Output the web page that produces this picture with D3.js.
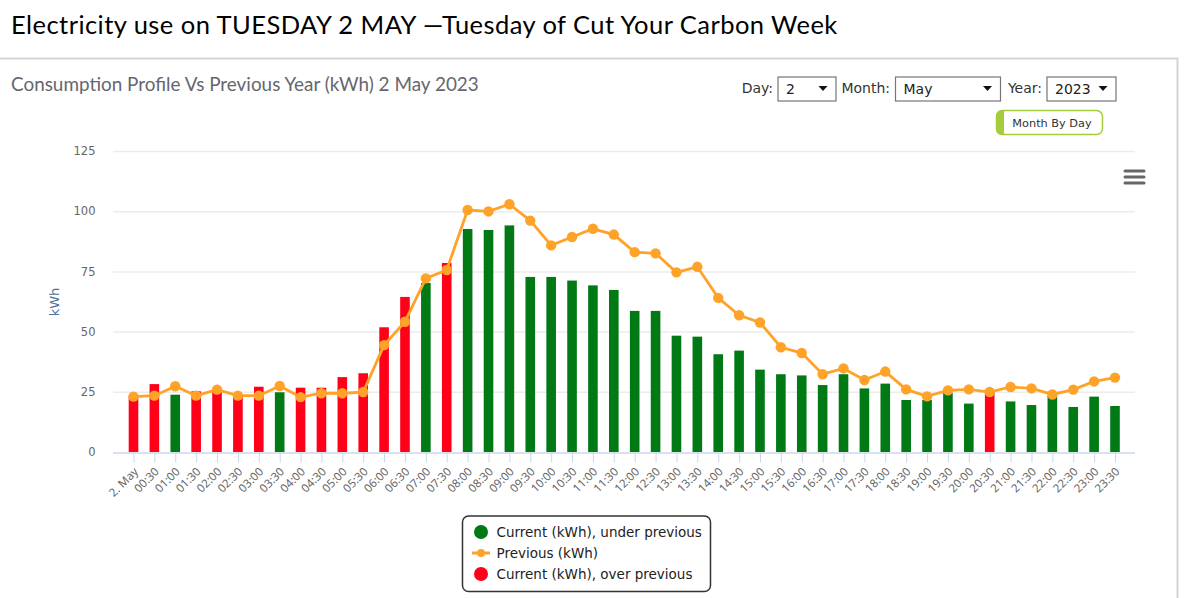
<!DOCTYPE html>
<html><head>
<meta charset="utf-8">
<title>Electricity use on Tuesday 2 May</title>
<script src="https://d3js.org/d3.v7.min.js"></script>
<style>
  html, body { margin: 0; padding: 0; background: #fff; }
  svg { display: block; }
  text { font-family: "DejaVu Sans", sans-serif; }
</style>
</head>
<body>
<svg id="chart" width="1189" height="598"></svg>
<script>
// half-hourly labels, first one is the date label
let times = ["2. May", "00:30", "01:00", "01:30", "02:00", "02:30", "03:00", "03:30", "04:00", "04:30",
  "05:00", "05:30", "06:00", "06:30", "07:00", "07:30", "08:00", "08:30", "09:00", "09:30",
  "10:00", "10:30", "11:00", "11:30", "12:00", "12:30", "13:00", "13:30", "14:00", "14:30",
  "15:00", "15:30", "16:00", "16:30", "17:00", "17:30", "18:00", "18:30", "19:00", "19:30",
  "20:00", "20:30", "21:00", "21:30", "22:00", "22:30", "23:00", "23:30"];
let current = [23.3, 28.2, 23.8, 25.2, 26.2, 23.6, 27.1, 24.8, 26.7, 26.7,
  31.1, 32.7, 51.8, 64.4, 70.2, 78.5, 92.6, 92.2, 94.1, 72.7,
  72.7, 71.2, 69.2, 67.3, 58.6, 58.6, 48.3, 47.9, 40.6, 42.1,
  34.2, 32.3, 31.8, 27.8, 32.3, 26.4, 28.4, 21.6, 21.6, 24.5,
  20.1, 25.2, 21.0, 19.5, 23.4, 18.7, 23.0, 19.1];
let previous = [23.0, 23.4, 27.3, 23.4, 25.9, 23.4, 23.4, 27.4, 22.8, 24.4,
  24.4, 24.9, 44.4, 54.1, 72.1, 75.6, 100.5, 99.9, 102.9, 96.1,
  85.8, 89.3, 92.7, 90.3, 83.0, 82.5, 74.6, 76.9, 64.0, 56.8,
  53.8, 43.5, 41.1, 32.3, 34.7, 29.9, 33.4, 26.0, 23.1, 25.6,
  26.0, 24.9, 27.0, 26.4, 23.9, 25.9, 29.3, 30.9];
let yTicks = [0, 25, 50, 75, 100, 125];
let legendItems = ["Current (kWh), under previous", "Previous (kWh)", "Current (kWh), over previous"];

let green = "#017a15", red = "#ff0019", orange = "#ffa228";
let svg = d3.select("#chart");

// page heading and the panel behind the chart
svg.append("text").attr("x", 11).attr("y", 34)
    .style("font-family", "Lato").style("font-size", "25.5px").style("letter-spacing", "0.45px").style("fill", "#000")
    .text("Electricity use on TUESDAY 2 MAY \u2014Tuesday of Cut Your Carbon Week");
svg.append("path").attr("d", "M0 58.5H1177.5V598").attr("fill", "none")
    .attr("stroke", "#d4d4d4").attr("stroke-width", 2);
svg.append("text").attr("x", 11).attr("y", 91)
    .style("font-family", "Lato").style("font-size", "18.9px").style("fill", "#66666e")
    .text("Consumption Profile Vs Previous Year (kWh) 2 May 2023");

// scales
let x = d3.scalePoint().domain(times).range([133.5, 1115]);
let y = d3.scaleLinear().domain([0, 125]).range([452, 151]);
let barWidth = 9.6;

// y axis, highcharts style gridlines
let yAxis = svg.append("g").attr("transform", "translate(113,0)")
    .call(d3.axisLeft(y).tickValues(yTicks).tickSize(-1022).tickPadding(17.5));
yAxis.select(".domain").remove();
yAxis.selectAll(".tick line").attr("stroke", "#ececec").attr("stroke-width", 1.5);
yAxis.selectAll(".tick text").style("font-size", "11.5px").style("fill", "#666");
yAxis.selectAll(".tick").filter(d => d === 0).select("line").remove();

svg.append("text").attr("transform", "translate(59,302) rotate(-90)").attr("text-anchor", "middle")
    .style("font-size", "13px").style("fill", "#4d6f9c").text("kWh");

// x axis
let xAxis = svg.append("g").attr("transform", "translate(0,452.5)")
    .call(d3.axisBottom(x).tickSize(10).tickSizeOuter(0));
xAxis.select(".domain").attr("d", "M113 0.5H1135").attr("stroke", "#ccd6eb").attr("stroke-width", 1.5);
xAxis.selectAll(".tick line").attr("stroke", "#ccd6eb");
xAxis.selectAll(".tick text")
    .attr("x", 0).attr("y", 0).attr("dy", "0.35em")
    .attr("transform", "translate(2,17) rotate(-45)")
    .attr("text-anchor", "end")
    .style("font-family", "Noto Sans").style("font-size", "11.5px").style("fill", "#666");

// bars, colour depends on whether this year is above last year
svg.append("g").selectAll("rect").data(current).join("rect")
    .attr("x", (d, i) => x(times[i]) - barWidth / 2)
    .attr("y", d => y(d))
    .attr("width", barWidth)
    .attr("height", d => y(0) - y(d))
    .attr("fill", (d, i) => d > previous[i] ? red : green);

// previous year line
let line = d3.line().x((d, i) => x(times[i])).y(d => y(d));
svg.append("path").datum(previous).attr("d", line)
    .attr("fill", "none").attr("stroke", orange).attr("stroke-width", 2.8);
svg.append("g").selectAll("circle").data(previous).join("circle")
    .attr("cx", (d, i) => x(times[i])).attr("cy", d => y(d)).attr("r", 5.2)
    .attr("fill", orange);

// legend
svg.append("rect").attr("x", 462.5).attr("y", 516).attr("width", 248).attr("height", 75.5).attr("rx", 6)
    .attr("fill", "#fff").attr("stroke", "#333").attr("stroke-width", 1.5);
legendItems.forEach(function(label, i) {
  let ly = 532 + i * 21;
  if (i === 1) {
    svg.append("line").attr("x1", 472).attr("x2", 490).attr("y1", ly).attr("y2", ly)
        .attr("stroke", orange).attr("stroke-width", 3);
    svg.append("circle").attr("cx", 481).attr("cy", ly).attr("r", 4).attr("fill", orange);
  } else {
    svg.append("circle").attr("cx", 481).attr("cy", ly).attr("r", 7).attr("fill", i === 0 ? green : red);
  }
  svg.append("text").attr("x", 496.5).attr("y", ly + 4.5)
      .style("font-size", "13.5px").style("fill", "#222").text(label);
});

// the day / month / year pickers
function picker(labelText, labelEnd, boxX, boxW, value) {
  svg.append("text").attr("x", labelEnd).attr("y", 93).attr("text-anchor", "end")
      .style("font-size", "14px").style("fill", "#333").text(labelText);
  svg.append("rect").attr("x", boxX).attr("y", 77).attr("width", boxW).attr("height", 24)
      .attr("fill", "#fff").attr("stroke", "#767676").attr("stroke-width", 1.2);
  svg.append("text").attr("x", boxX + 8).attr("y", 94)
      .style("font-size", "14px").style("fill", "#222").text(value);
  let tx = boxX + boxW - 13;
  svg.append("path").attr("d", `M${tx - 4.5} 86H${tx + 4.5}L${tx} 91Z`).attr("fill", "#111");
}
picker("Day:", 773, 778, 58, "2");
picker("Month:", 890, 895.5, 105, "May");
picker("Year:", 1042, 1047, 69, "2023");

// month by day button
svg.append("rect").attr("x", 996.5).attr("y", 110.5).attr("width", 106).attr("height", 24).attr("rx", 6)
    .attr("fill", "#fff").attr("stroke", "#a5cd39").attr("stroke-width", 1.5);
svg.append("path").attr("d", "M1003 110H1004V135H1003Q996 135 996 129V116Q996 110 1003 110Z").attr("fill", "#a5cd39");
svg.append("text").attr("x", 1052).attr("y", 126.5).attr("text-anchor", "middle")
    .style("font-size", "11.3px").style("fill", "#333").text("Month By Day");

// export menu icon
[171, 177, 183].forEach(function(my) {
  svg.append("line").attr("x1", 1125).attr("x2", 1144).attr("y1", my).attr("y2", my)
      .attr("stroke", "#666").attr("stroke-width", 3).attr("stroke-linecap", "round");
});
</script>
</body></html>
